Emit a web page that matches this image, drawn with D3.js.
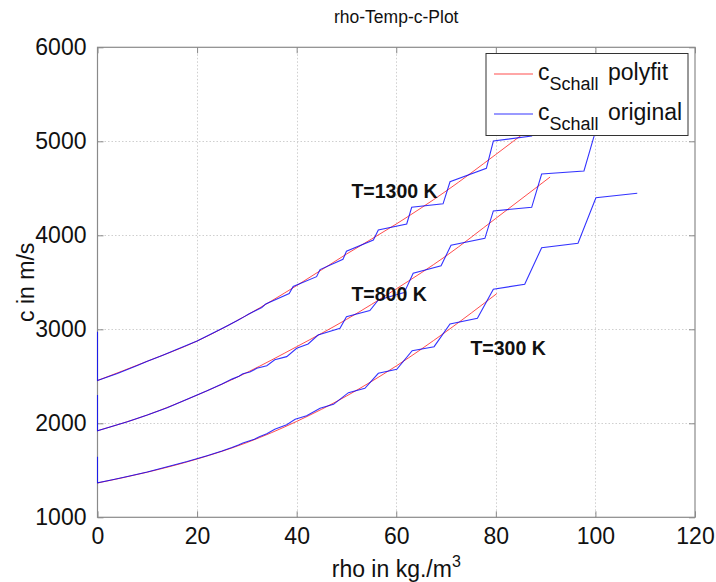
<!DOCTYPE html>
<html>
<head>
<meta charset="utf-8">
<script src="https://cdn.jsdelivr.net/npm/d3@7/dist/d3.min.js"></script>
<style>
  html, body { margin: 0; padding: 0; background: #fff; }
  svg { display: block; font-family: "Liberation Sans", Arial, sans-serif; }
</style>
</head>
<body>
<svg id="chart" width="716" height="582"></svg>
<script>
// axis ticks
const xTicks = [0, 20, 40, 60, 80, 100, 120];
const yTicks = [1000, 2000, 3000, 4000, 5000, 6000];

// polynomial fit curves, [rho, c]
const fit300 = [[0,1365],[10,1480],[20,1620],[30,1795],[40,2020],[50,2290],[60,2610],[70,2975],[80.2,3380]];
const fit800 = [[0,1921],[10,2088],[20,2300],[30,2540],[40,2815],[50,3105],[60,3430],[70,3780],[80,4180],[90.9,4620]];
const fit1300 = [[0,2455],[10,2660],[20,2875],[30,3150],[40,3465],[50,3800],[60,4120],[70,4470],[80,4860],[88,5180]];

// original tabulated speed of sound, [rho, c]
const orig300 = [[0,1645],[0,1368],[3,1400],[6,1434],[10,1482],[14,1537],[18,1593],[22,1655],[25,1705],[27,1743],
  [28.3,1770],[29.2,1790],[31.5,1830],[32.5,1858],[34.0,1890],[35.6,1936],[38.0,1985],[39.7,2043],[42.0,2080],
  [44.7,2160],[47.4,2202],[50.4,2326],[53.7,2372],[56.4,2532],[60.1,2574],[63.2,2772],[67.6,2815],[70.8,3056],
  [76.3,3117],[79.5,3426],[85.8,3479],[89.2,3868],[96.5,3915],[100.1,4400],[108.4,4447]];
const orig800 = [[0,2300],[0,1921],[3,1968],[6,2017],[10,2088],[14,2165],[18,2255],[22,2345],[25,2418],[27,2470],
  [28.4,2500],[29.2,2528],[30.6,2545],[32.0,2585],[34.0,2612],[35.6,2676],[38.0,2709],[40.0,2798],[42.3,2844],
  [44.3,2939],[48.7,3010],[50.0,3134],[54.7,3200],[56.4,3312],[61.6,3390],[63.4,3596],[69.0,3675],[71.0,3895],
  [77.8,3968],[79.5,4259],[87.2,4298],[89.2,4652],[97.7,4684],[99.7,5049],[100.1,5130],[108.4,5180]];
const orig1300 = [[0,2975],[0,2455],[2,2492],[4,2530],[6,2572],[8,2615],[10,2660],[13,2722],[16,2787],[20,2875],
  [23,2955],[26,3035],[28,3090],[29.5,3135],[30.3,3160],[33,3232],[33.8,3270],[38.5,3380],[39.3,3455],[44.0,3560],
  [44.7,3635],[49.3,3745],[50.0,3830],[55.4,3950],[56.4,4056],[62.1,4120],[63.1,4298],[69.4,4335],[70.8,4570],
  [78.1,4713],[79.5,5003],[87.2,5056],[89.2,5430],[97.7,5470]];

const curveLabels = [
  {text: "T=1300 K", rho: 51.0, c: 4397},
  {text: "T=800 K",  rho: 51.0, c: 3301},
  {text: "T=300 K",  rho: 74.9, c: 2727}
];

const svg = d3.select("#chart");
const L = 97.5, R = 695, T = 47.3, B = 517.3;
const x = d3.scaleLinear().domain([0, 120]).range([L, R]);
const y = d3.scaleLinear().domain([1000, 6000]).range([B, T]);

const axisColor = "#8a8a8a";
const labelFont = 23;

// title
svg.append("text").attr("x", (L + R) / 2).attr("y", 23)
  .attr("text-anchor", "middle").attr("font-size", 17.5).attr("fill", "#111")
  .text("rho-Temp-c-Plot");

// grid
const grid = svg.append("g").attr("stroke", "#cfcfcf").attr("stroke-width", 1).attr("stroke-dasharray", "1.5,2");
grid.selectAll(".gx").data(xTicks.slice(1, -1)).join("line")
  .attr("x1", d => Math.round(x(d)) + 0.5).attr("x2", d => Math.round(x(d)) + 0.5)
  .attr("y1", T).attr("y2", B);
grid.selectAll(".gy").data(yTicks.slice(1, -1)).join("line")
  .attr("y1", d => Math.round(y(d)) + 0.5).attr("y2", d => Math.round(y(d)) + 0.5)
  .attr("x1", L).attr("x2", R);

// axes
const xAxis = d3.axisBottom(x).tickValues(xTicks).tickFormat(d3.format("d"))
  .tickSizeInner(-6).tickSizeOuter(0).tickPadding(10);
const yAxis = d3.axisLeft(y).tickValues(yTicks).tickFormat(d3.format("d"))
  .tickSizeInner(-6).tickSizeOuter(0).tickPadding(11);
const xTop = d3.axisTop(x).tickValues(xTicks).tickSizeInner(-6).tickSizeOuter(0).tickFormat("");
const yRight = d3.axisRight(y).tickValues(yTicks).tickSizeInner(-6).tickSizeOuter(0).tickFormat("");

function styleAxis(g) {
  g.select(".domain").remove();
  g.selectAll(".tick line").attr("stroke", axisColor);
  g.selectAll(".tick text").attr("fill", "#111").attr("font-size", labelFont)
    .attr("font-family", "'Liberation Sans', Arial, sans-serif");
}
svg.append("g").attr("transform", `translate(0,${B})`).call(xAxis).call(styleAxis);
svg.append("g").attr("transform", `translate(${L},0)`).call(yAxis).call(styleAxis);
svg.append("g").attr("transform", `translate(0,${T})`).call(xTop).call(styleAxis);
svg.append("g").attr("transform", `translate(${R},0)`).call(yRight).call(styleAxis);

svg.append("rect").attr("x", L).attr("y", T).attr("width", R - L).attr("height", B - T)
  .attr("fill", "none").attr("stroke", axisColor).attr("stroke-width", 1.2);

// plot lines (on top of the axes box so the rho=0 segments stay visible)
svg.append("clipPath").attr("id", "clip").append("rect")
  .attr("x", L - 1).attr("y", T).attr("width", R - L + 1).attr("height", B - T);
const plot = svg.append("g").attr("clip-path", "url(#clip)");
const smooth = d3.line().x(d => x(d[0])).y(d => y(d[1])).curve(d3.curveMonotoneX);
const straight = d3.line().x(d => x(d[0])).y(d => y(d[1]));

[fit300, fit800, fit1300].forEach(s => {
  plot.append("path").attr("d", smooth(s)).attr("fill", "none")
    .attr("stroke", "#ff2020").attr("stroke-width", 1).attr("stroke-opacity", 0.8);
});
[orig300, orig800, orig1300].forEach(s => {
  plot.append("path").attr("d", straight(s)).attr("fill", "none")
    .attr("stroke", "#0000ff").attr("stroke-width", 1.1).attr("stroke-opacity", 0.8);
});

// curve labels
svg.selectAll(".clab").data(curveLabels).join("text")
  .attr("x", d => x(d.rho)).attr("y", d => y(d.c))
  .attr("font-size", 19.5).attr("font-weight", "bold").attr("fill", "#111")
  .text(d => d.text);

// axis titles
const xt = svg.append("text").attr("x", (L + R) / 2).attr("y", 576.5)
  .attr("text-anchor", "middle").attr("font-size", labelFont).attr("fill", "#111");
xt.append("tspan").text("rho in kg./m");
xt.append("tspan").attr("font-size", 16).attr("dy", -10).text("3");

svg.append("text").attr("transform", `translate(33.5,${(T + B) / 2}) rotate(-90)`)
  .attr("text-anchor", "middle").attr("font-size", labelFont).attr("fill", "#111")
  .text("c in m/s");

// legend
const legend = svg.append("g");
legend.append("rect").attr("x", 486).attr("y", 53.5).attr("width", 202).attr("height", 82)
  .attr("fill", "#fff").attr("stroke", "#333").attr("stroke-width", 1);
const legendItems = [
  {name: "polyfit", color: "#ff2020", op: 0.8, yy: 74},
  {name: "original", color: "#0000ff", op: 0.8, yy: 114}
];
legendItems.forEach(it => {
  legend.append("line").attr("x1", 494).attr("x2", 533).attr("y1", it.yy).attr("y2", it.yy)
    .attr("stroke", it.color).attr("stroke-opacity", it.op).attr("stroke-width", 1);
  const t = legend.append("text").attr("x", 538).attr("y", it.yy + 5.5)
    .attr("font-size", labelFont).attr("fill", "#111");
  t.append("tspan").text("c");
  t.append("tspan").attr("font-size", 18).attr("dy", 10.5).text("Schall");
  t.append("tspan").attr("x", 608).attr("dy", -10.5).text(it.name);
});
</script>
</body>
</html>
